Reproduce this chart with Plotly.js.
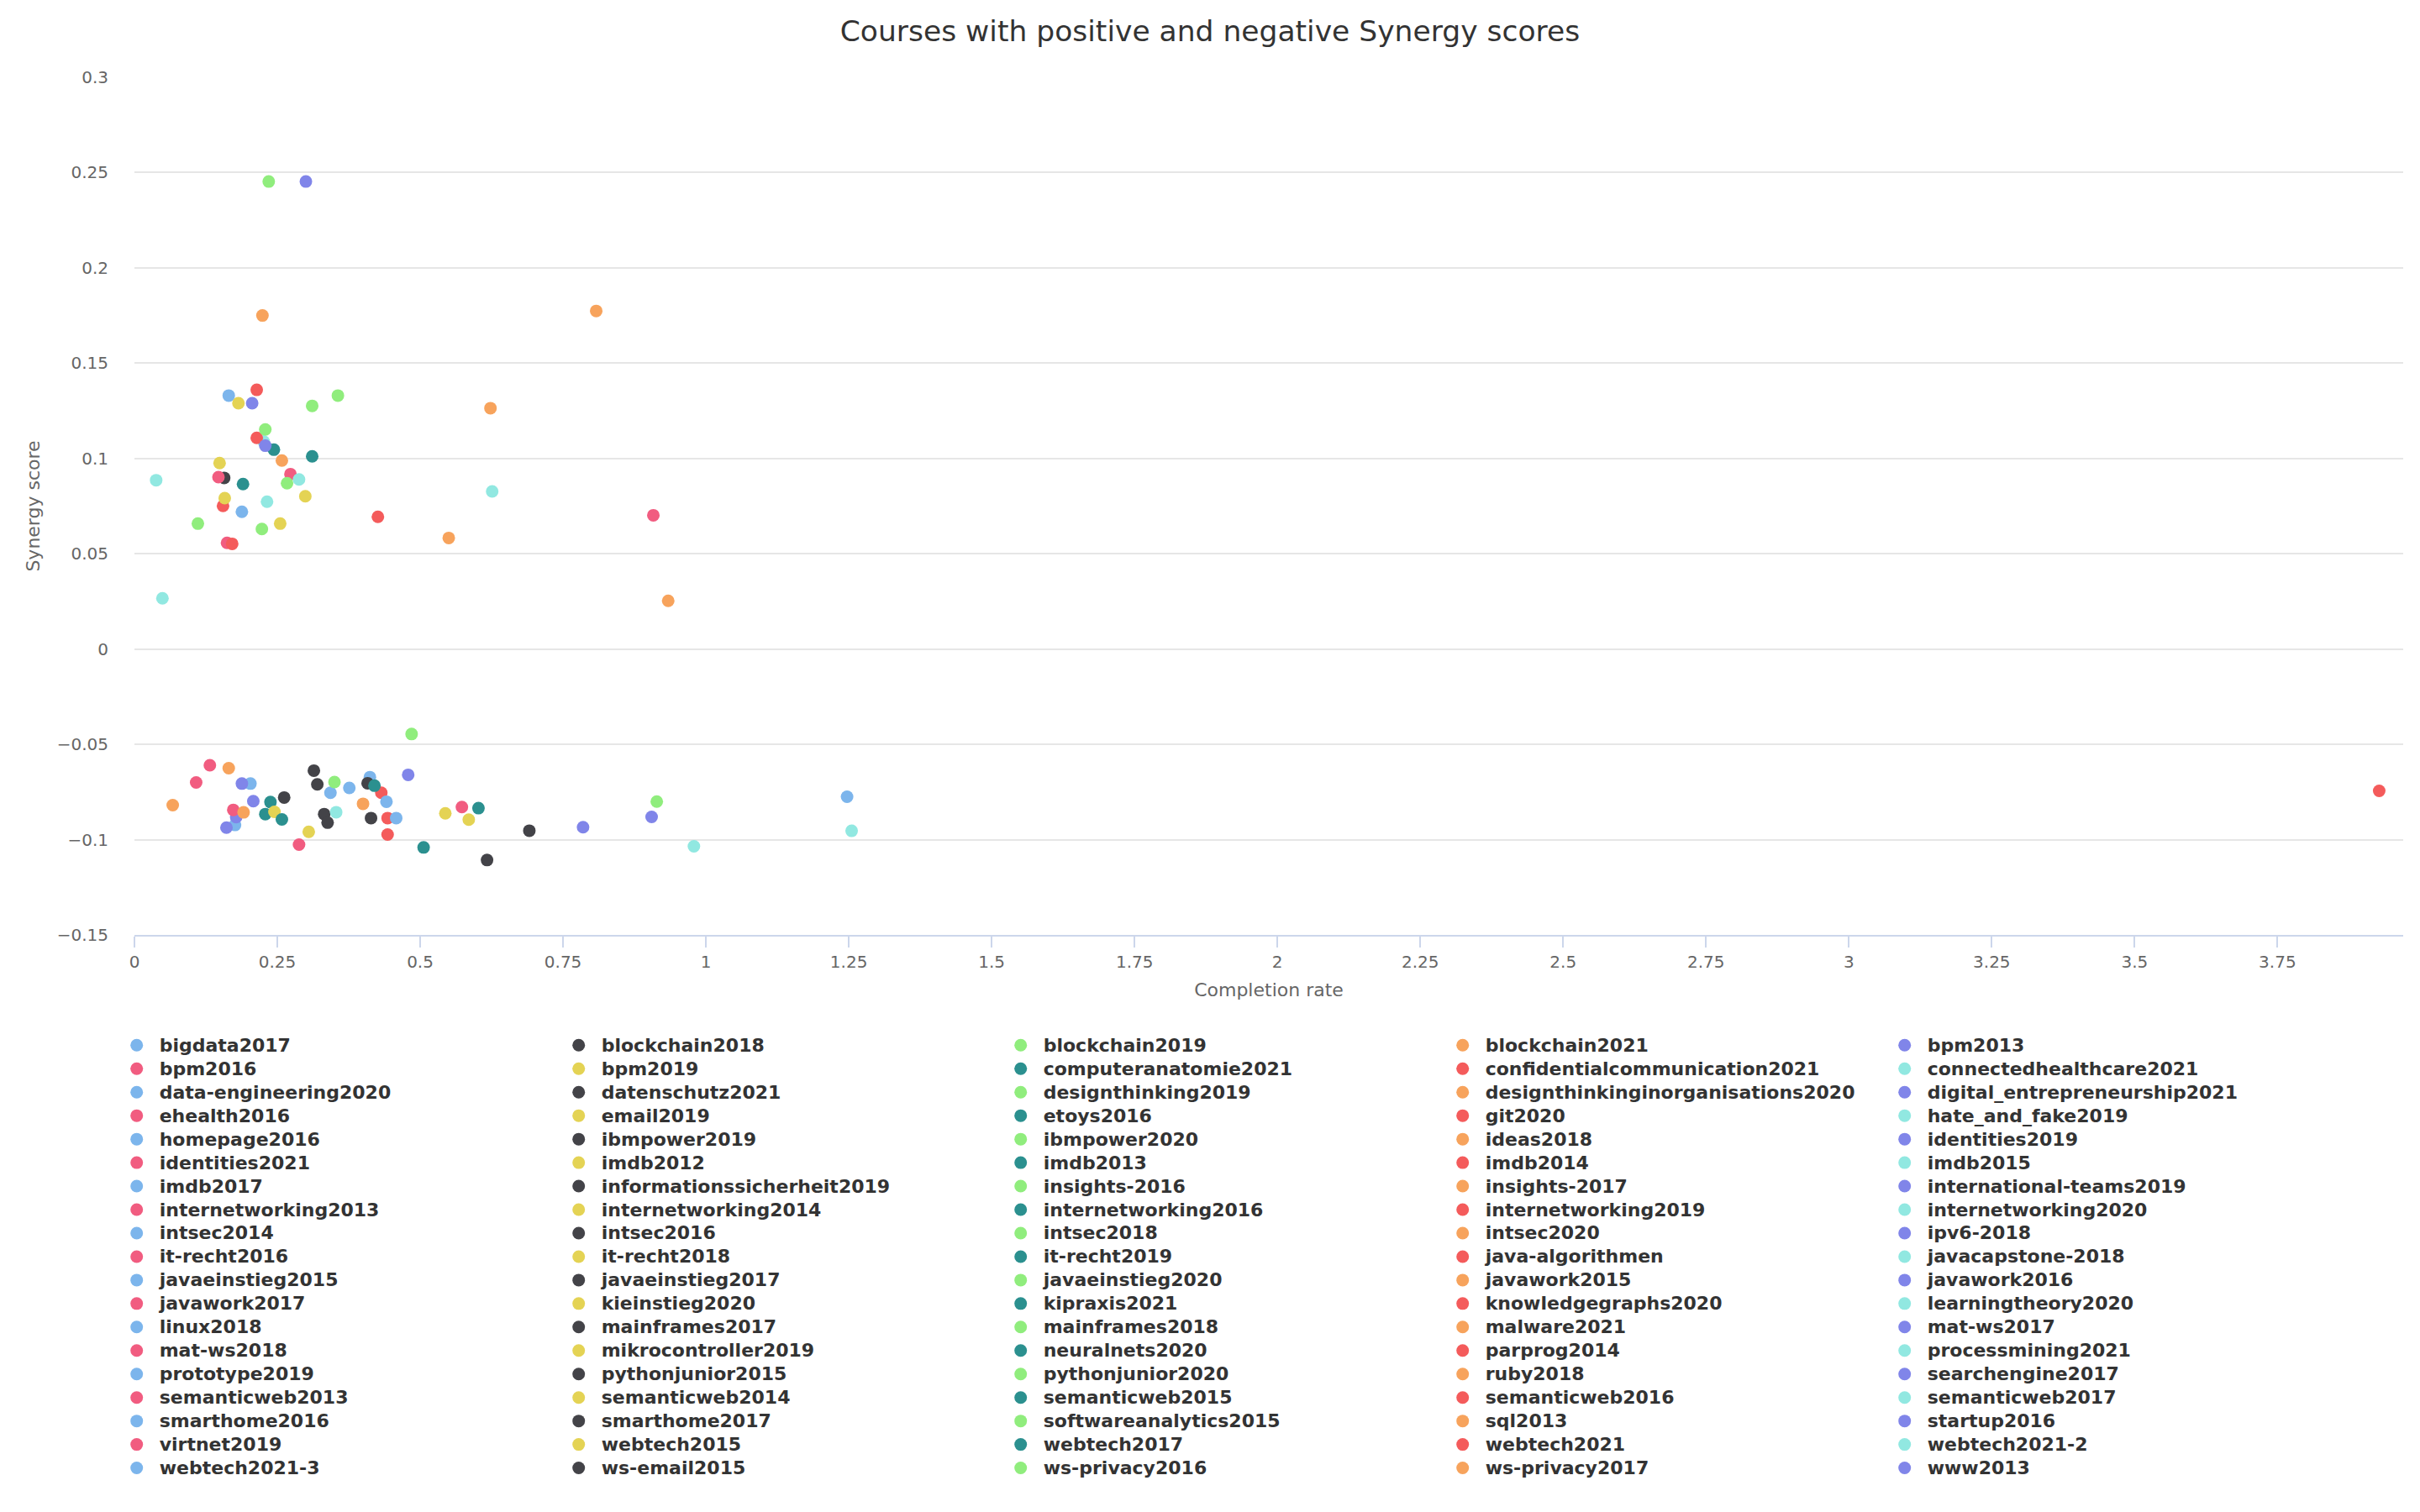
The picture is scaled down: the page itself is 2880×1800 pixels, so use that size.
<!DOCTYPE html>
<html>
<head>
<meta charset="utf-8">
<script src="https://cdn.plot.ly/plotly-3.0.1.min.js"></script>
<style>
html,body{margin:0;padding:0;background:#fff;}
#chart{width:2880px;height:1800px;}
#chart .legendtext{font-size:22px !important;}
</style>
</head>
<body>
<div id="chart"></div>
<script>
const courseNames = [
"bigdata2017","blockchain2018","blockchain2019","blockchain2021","bpm2013",
"bpm2016","bpm2019","computeranatomie2021","confidentialcommunication2021","connectedhealthcare2021",
"data-engineering2020","datenschutz2021","designthinking2019","designthinkinginorganisations2020","digital_entrepreneurship2021",
"ehealth2016","email2019","etoys2016","git2020","hate_and_fake2019",
"homepage2016","ibmpower2019","ibmpower2020","ideas2018","identities2019",
"identities2021","imdb2012","imdb2013","imdb2014","imdb2015",
"imdb2017","informationssicherheit2019","insights-2016","insights-2017","international-teams2019",
"internetworking2013","internetworking2014","internetworking2016","internetworking2019","internetworking2020",
"intsec2014","intsec2016","intsec2018","intsec2020","ipv6-2018",
"it-recht2016","it-recht2018","it-recht2019","java-algorithmen","javacapstone-2018",
"javaeinstieg2015","javaeinstieg2017","javaeinstieg2020","javawork2015","javawork2016",
"javawork2017","kieinstieg2020","kipraxis2021","knowledgegraphs2020","learningtheory2020",
"linux2018","mainframes2017","mainframes2018","malware2021","mat-ws2017",
"mat-ws2018","mikrocontroller2019","neuralnets2020","parprog2014","processmining2021",
"prototype2019","pythonjunior2015","pythonjunior2020","ruby2018","searchengine2017",
"semanticweb2013","semanticweb2014","semanticweb2015","semanticweb2016","semanticweb2017",
"smarthome2016","smarthome2017","softwareanalytics2015","sql2013","startup2016",
"virtnet2019","webtech2015","webtech2017","webtech2021","webtech2021-2",
"webtech2021-3","ws-email2015","ws-privacy2016","ws-privacy2017","www2013"
];
const completionRate = [
0.165,0.157,0.235,0.224,0.300,
0.273,0.182,0.244,0.214,0.226,
0.188,0.262,0.311,0.258,0.206,
0.147,0.149,0.311,0.214,0.288,
0.203,0.314,0.356,0.808,0.229,
0.162,0.299,0.190,0.155,0.038,
0.176,0.320,0.229,0.623,0.188,
0.908,0.158,0.238,0.171,0.232,
0.343,0.332,0.267,0.550,0.208,
0.132,0.255,0.229,0.426,0.626,
0.376,0.338,0.111,0.934,0.178,
0.108,0.245,0.258,0.432,0.049,
0.412,0.408,0.223,0.165,0.161,
0.173,0.305,0.420,0.443,0.353,
0.441,0.414,0.350,0.067,0.479,
0.288,0.544,0.506,0.443,0.979,
0.458,0.617,0.485,0.191,0.785,
0.573,0.585,0.602,3.928,1.255,
1.247,0.691,0.914,0.400,0.905
];
const synergyScore = [
0.133,0.0898,0.2453,0.175,0.2453,
0.0918,0.129,0.1046,0.136,0.1089,
0.072,-0.0779,0.1276,0.0989,0.129,
0.0902,0.0976,0.1011,0.1108,0.089,
-0.0706,-0.0638,0.133,0.1774,0.1067,
0.0557,0.0802,0.0866,0.0751,0.0886,
-0.0923,-0.0710,0.1152,0.1264,-0.0706,
0.0702,0.0792,-0.0803,0.0552,0.0773,
-0.0754,-0.0866,0.087,0.0583,-0.0798,
-0.0610,0.0658,-0.0866,0.0694,0.0827,
-0.0729,-0.0911,0.0658,0.0253,-0.0882,
-0.0700,-0.0854,-0.0894,-0.0754,0.0266,
-0.0672,-0.0704,0.063,-0.0625,-0.0937,
-0.0844,-0.0959,-0.0717,-0.0887,-0.0856,
-0.0801,-0.0887,-0.0698,-0.0819,-0.0660,
-0.1026,-0.0862,-0.1041,-0.0973,-0.1035,
-0.0887,-0.1107,-0.0446,-0.0857,-0.0935,
-0.0829,-0.0895,-0.0835,-0.0744,-0.0954,
-0.0775,-0.0953,-0.0800,-0.0812,-0.0881
];
const palette = ["#7cb5ec","#434348","#90ed7d","#f7a35c","#8085e9","#f15c80","#e4d354","#2b908f","#f45b5b","#91e8e1"];

const traces = courseNames.map((name, i) => ({
  type: 'scatter',
  mode: 'markers',
  name: name,
  x: [completionRate[i]],
  y: [synergyScore[i]],
  marker: {color: palette[i % palette.length], size: 15, line: {width: 0}}
}));

const layout = {
  width: 2880, height: 1800,
  paper_bgcolor: '#ffffff', plot_bgcolor: '#ffffff',
  margin: {l: 160, r: 20, t: 92, b: 687, autoexpand: false},
  title: {text: 'Courses with positive and negative Synergy scores',
          font: {family: 'DejaVu Sans', size: 34.5, color: '#333333'},
          x: 0.5, xref: 'container', xanchor: 'center', y: 1 - 37/1800, yref: 'container', yanchor: 'middle'},
  font: {family: 'DejaVu Sans', color: '#666666'},
  xaxis: {
    range: [0, 3.97], tick0: 0, dtick: 0.25, showgrid: false, zeroline: false,
    showline: true, linecolor: '#ccd6eb', linewidth: 2,
    ticks: 'outside', ticklen: 13, tickwidth: 2, tickcolor: '#ccd6eb',
    tickfont: {family: 'DejaVu Sans', size: 20, color: '#666666'},
    title: {text: 'Completion rate', font: {family: 'DejaVu Sans', size: 22, color: '#666666'}, standoff: 15}
  },
  yaxis: {
    range: [-0.15, 0.3], tick0: 0, dtick: 0.05, showgrid: true, gridcolor: '#e6e6e6', gridwidth: 2,
    zeroline: false, showline: false, ticks: '',
    ticklabelstandoff: 30,
    tickfont: {family: 'DejaVu Sans', size: 20, color: '#666666'},
    title: {text: 'Synergy score', font: {family: 'DejaVu Sans', size: 22, color: '#666666'}, standoff: 14}
  },
  showlegend: true,
  legend: {
    orientation: 'h', x: -0.009, xanchor: 'left', y: -0.110, yanchor: 'top',
    entrywidth: 467, entrywidthmode: 'pixels', itemwidth: 44, traceorder: 'normal',
    font: {family: 'DejaVu Sans', size: 19.2, color: '#333333', weight: 'bold'},
    bgcolor: 'rgba(0,0,0,0)'
  },
  hovermode: false
};

Plotly.newPlot('chart', traces, layout, {staticPlot: true, displayModeBar: false});
</script>
</body>
</html>
